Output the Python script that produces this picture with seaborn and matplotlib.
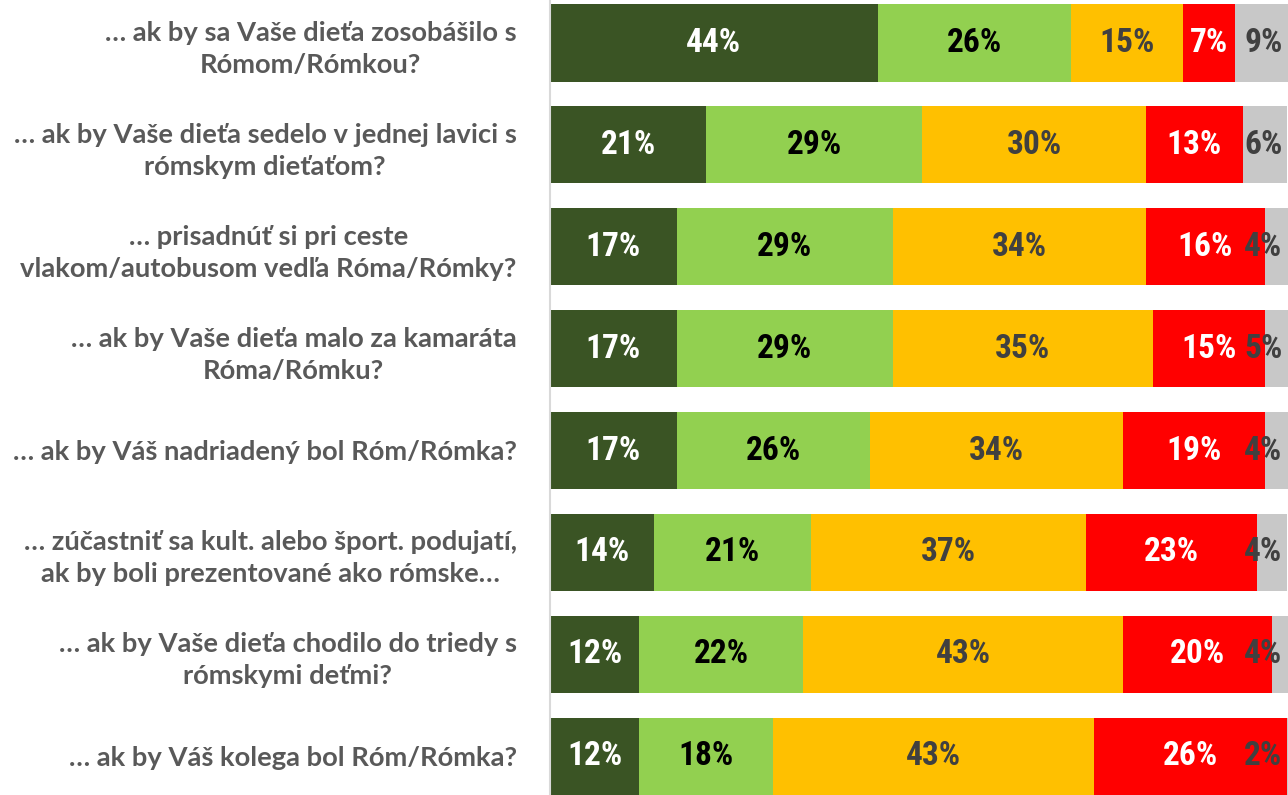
import numpy as np
import pandas as pd
import matplotlib
matplotlib.use('Agg')
import matplotlib.pyplot as plt
import seaborn as sns

# questions (top to bottom)
questions = [
    '… ak by sa Vaše dieťa zosobášilo s\nRómom/Rómkou?',
    '… ak by Vaše dieťa sedelo v jednej lavici s\nrómskym dieťaťom?',
    '… prisadnúť si pri ceste\nvlakom/autobusom vedľa Róma/Rómky?',
    '… ak by Vaše dieťa malo za kamaráta\nRóma/Rómku?',
    '… ak by Váš nadriadený bol Róm/Rómka?',
    '… zúčastniť sa kult. alebo šport. podujatí,\nak by boli prezentované ako rómske…',
    '… ak by Vaše dieťa chodilo do triedy s\nrómskymi deťmi?',
    '… ak by Váš kolega bol Róm/Rómka?',
]

# answer shares in %, one list per answer level
level1 = [44, 21, 17, 17, 17, 14, 12, 12]
level2 = [26, 29, 29, 29, 26, 21, 22, 18]
level3 = [15, 30, 34, 35, 34, 37, 43, 43]
level4 = [7, 13, 16, 15, 19, 23, 20, 26]
level5 = [9, 6, 4, 5, 4, 4, 4, 2]

levels = [level1, level2, level3, level4, level5]
colors = ['#3A5424', '#92D050', '#FFC000', '#FF0000', '#C8C8C8']
text_colors = ['white', 'black', '#404040', 'white', '#404040']

sns.set_style('white')

fig = plt.figure(figsize=(12.88, 7.95), dpi=100)
ax = fig.add_axes([550 / 1288, 0, 1 - 550 / 1288, 1])

df = pd.DataFrame({'q': questions})
cum = np.zeros(len(questions))
cums = []
for vals in levels:
    cum = cum + np.array(vals)
    cums.append(cum.copy())

# stacked bars: draw cumulative totals from the longest to the shortest
for i in range(len(levels) - 1, -1, -1):
    df['x'] = cums[i]
    sns.barplot(data=df, x='x', y='q', orient='h', color=colors[i],
                width=0.76, saturation=1, ax=ax, edgecolor='none')

xmax = 99.1
ax.set_xlim(0, xmax)
ax.set_ylim(7.38, -0.42)

pct_font = ['Roboto Condensed', 'Roboto', 'DejaVu Sans']
for i, vals in enumerate(levels):
    start = cums[i] - np.array(vals)
    for j, v in enumerate(vals):
        xc = start[j] + v / 2
        xc = min(xc, 95.8)
        ax.text(xc, j, f'{v}%', ha='center', va='center', fontsize=24,
                fontweight='bold', color=text_colors[i], family=pct_font)

ax.set_xticks([])
ax.set_xlabel('')
ax.set_ylabel('')
ax.tick_params(axis='y', length=0, pad=24)
for lab in ax.get_yticklabels():
    lab.set_fontsize(19.7)
    lab.set_fontweight('bold')
    lab.set_color('#595959')
    lab.set_family(['Lato', 'DejaVu Sans'])
    lab.set_multialignment('center')
    lab.set_linespacing(1.4)

for s in ['top', 'right', 'bottom']:
    ax.spines[s].set_visible(False)
ax.spines['left'].set_color('#D9D9D9')
ax.spines['left'].set_linewidth(1.5)

fig.savefig('out.png', dpi=100)
